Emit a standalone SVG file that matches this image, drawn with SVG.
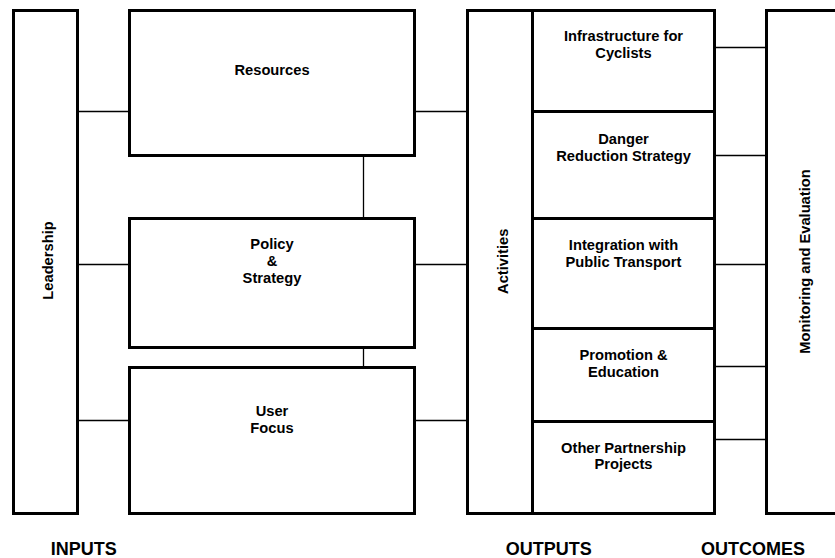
<svg xmlns="http://www.w3.org/2000/svg" width="835" height="558" viewBox="0 0 835 558">
<style>
.box{fill:#fff;stroke:#000;stroke-width:3}
.conn{stroke:#000;stroke-width:1.3;fill:none}
text{font-family:"Liberation Sans",Arial,sans-serif;font-weight:bold;fill:#000;text-anchor:middle}
.t{font-size:14.7px}
.h{font-size:18px}
</style>
<rect x="0" y="0" width="835" height="558" fill="#fff"/>
<g id="connectors">
<line class="conn" x1="77.5" y1="111.5" x2="129.5" y2="111.5"/>
<line class="conn" x1="77.5" y1="264.5" x2="129.5" y2="264.5"/>
<line class="conn" x1="77.5" y1="420.5" x2="129.5" y2="420.5"/>
<line class="conn" x1="363.5" y1="155.5" x2="363.5" y2="218.5"/>
<line class="conn" x1="363.5" y1="347.5" x2="363.5" y2="367.5"/>
<line class="conn" x1="414.5" y1="111.5" x2="467.5" y2="111.5"/>
<line class="conn" x1="414.5" y1="264.5" x2="467.5" y2="264.5"/>
<line class="conn" x1="414.5" y1="420.5" x2="467.5" y2="420.5"/>
<line class="conn" x1="714.5" y1="47.5" x2="766.5" y2="47.5"/>
<line class="conn" x1="714.5" y1="155.5" x2="766.5" y2="155.5"/>
<line class="conn" x1="714.5" y1="264.5" x2="766.5" y2="264.5"/>
<line class="conn" x1="714.5" y1="366.5" x2="766.5" y2="366.5"/>
<line class="conn" x1="714.5" y1="439.5" x2="766.5" y2="439.5"/>
</g>
<g id="leadership">
<rect class="box" x="13.5" y="10.5" width="64" height="503"/>
<text class="t" transform="translate(52.5,260.5) rotate(-90)">Leadership</text>
</g>
<g id="resources">
<rect class="box" x="129.5" y="10.5" width="285" height="145"/>
<text class="t" x="272" y="75">Resources</text>
</g>
<g id="policy">
<rect class="box" x="129.5" y="218.5" width="285" height="129"/>
<text class="t" x="272" y="248.5">Policy</text>
<text class="t" x="272" y="265.5">&amp;</text>
<text class="t" x="272" y="282.5">Strategy</text>
</g>
<g id="userfocus">
<rect class="box" x="129.5" y="367.5" width="285" height="146"/>
<text class="t" x="272" y="416">User</text>
<text class="t" x="272" y="432.7">Focus</text>
</g>
<g id="activities">
<rect class="box" x="467.5" y="10.5" width="65" height="503"/>
<text class="t" transform="translate(508.3,261.3) rotate(-90)">Activities</text>
</g>
<g id="infrastructure">
<rect class="box" x="532.5" y="10.5" width="182" height="101"/>
<text class="t" x="623.5" y="41">Infrastructure for</text>
<text class="t" x="623.5" y="57.5">Cyclists</text>
</g>
<g id="danger">
<rect class="box" x="532.5" y="111.5" width="182" height="107"/>
<text class="t" x="623.5" y="144">Danger</text>
<text class="t" x="623.5" y="160.7">Reduction Strategy</text>
</g>
<g id="integration">
<rect class="box" x="532.5" y="218.5" width="182" height="110"/>
<text class="t" x="623.5" y="249.7">Integration with</text>
<text class="t" x="623.5" y="266.5">Public Transport</text>
</g>
<g id="promotion">
<rect class="box" x="532.5" y="328.5" width="182" height="93"/>
<text class="t" x="623.5" y="360">Promotion &amp;</text>
<text class="t" x="623.5" y="376.7">Education</text>
</g>
<g id="other">
<rect class="box" x="532.5" y="421.5" width="182" height="92"/>
<text class="t" x="623.5" y="452.7">Other Partnership</text>
<text class="t" x="623.5" y="469.3">Projects</text>
</g>
<g id="monitoring">
<rect class="box" x="766.5" y="10.5" width="90" height="503"/>
<text class="t" transform="translate(809.5,261.5) rotate(-90)">Monitoring and Evaluation</text>
</g>
<g id="labels">
<text class="h" x="83.7" y="554.5">INPUTS</text>
<text class="h" x="548.8" y="554.5">OUTPUTS</text>
<text class="h" x="753" y="554.5">OUTCOMES</text>
</g>
</svg>
